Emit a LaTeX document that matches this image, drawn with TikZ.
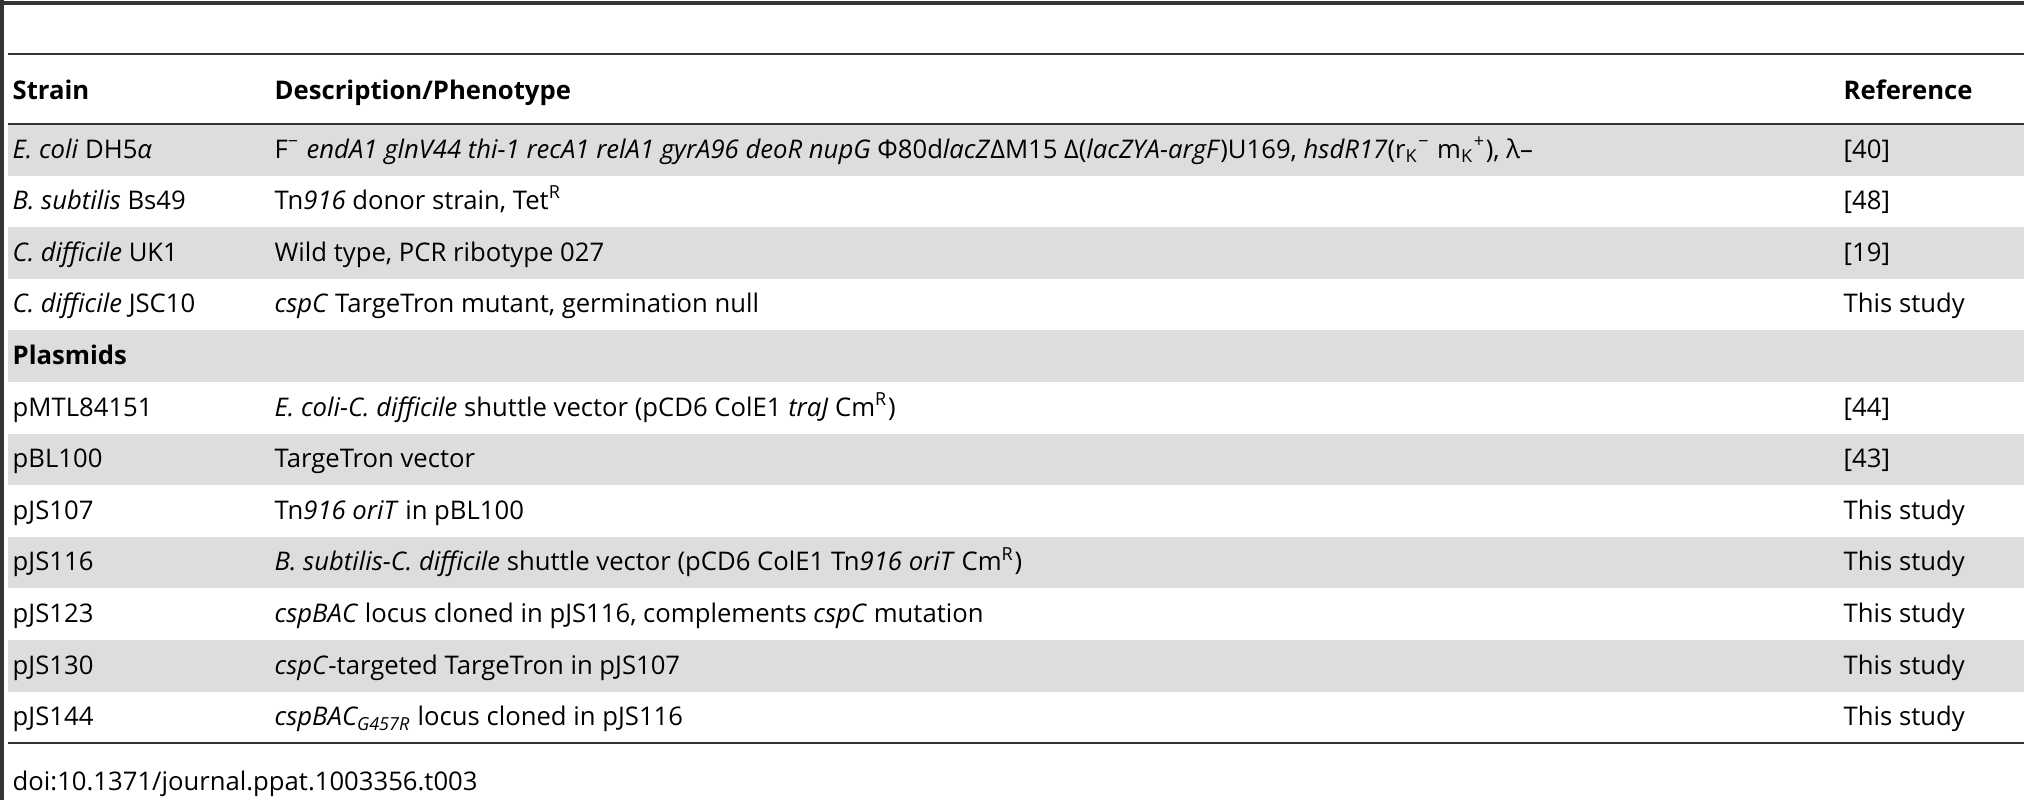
\documentclass[tikz,border=0pt]{standalone}
\usepackage{fontspec}
\setmainfont{Open Sans}
\usetikzlibrary{positioning}
\definecolor{bandgray}{HTML}{DCDDDF}
\definecolor{rulegray}{HTML}{333333}
\tikzset{
cell/.style={anchor=base west,inner sep=0pt,font=\fontsize{7.3}{9}\selectfont},
head/.style={cell,font=\fontsize{7.3}{9}\selectfont\bfseries},
rulethick/.style={rulegray,line width=1.2pt},
rulethin/.style={rulegray,line width=0.8pt},
}
\newcommand{\gn}[1]{\textit{#1}}
\begin{document}
\begin{tikzpicture}[x=0.01cm,y=-0.01cm]
        \useasboundingbox (0,0) rectangle (2024,800);
        % shaded rows
        \foreach \r in {0,2,4,6,8,10}
        \fill[bandgray] (8,124+51.6*\r) rectangle (2024,124+51.6*\r+51.6);
        % rules
        \draw[rulethick] (0,3) -- (2024,3);
        \draw[rulethick] (2,0) -- (2,800);
        \draw[rulethin] (8,54) -- (2024,54);
        \draw[rulethin] (8,124) -- (2024,124);
        \draw[rulethin] (8,743) -- (2024,743);
        % header
        \node[head] (hstrain) at (12,99) {Strain};
        \node[head] (hdesc) at (274,99) {Description/Phenotype};
        \node[head] (href) at (1843,99) {Reference};
        % strains
        \node[cell] (s1) at (12,158) {\gn{E. coli} DH5\textit{α}};
        \node[cell] (d1) at (274,158) {F\textsuperscript{−} \gn{endA1 glnV44 thi-1 recA1 relA1 gyrA96 deoR nupG} Φ80d\gn{lacZ}ΔM15 Δ(\gn{lacZYA-argF})U169, \gn{hsdR17}(r\textsubscript{K}\textsuperscript{−} m\textsubscript{K}\textsuperscript{+}), λ–};
        \node[cell] (r1) at (1843,158) {[40]};
        \node[cell] (s2) at (12,209.6) {\gn{B. subtilis} Bs49};
        \node[cell] (d2) at (274,209.6) {Tn\gn{916} donor strain, Tet\textsuperscript{R}};
        \node[cell] (r2) at (1843,209.6) {[48]};
        \node[cell] (s3) at (12,261.2) {\gn{C. difficile} UK1};
        \node[cell] (d3) at (274,261.2) {Wild type, PCR ribotype 027};
        \node[cell] (r3) at (1843,261.2) {[19]};
        \node[cell] (s4) at (12,312.8) {\gn{C. difficile} JSC10};
        \node[cell] (d4) at (274,312.8) {\gn{cspC} TargeTron mutant, germination null};
        \node[cell] (r4) at (1843,312.8) {This study};
        % plasmids
        \node[head] (hplasmid) at (12,364.4) {Plasmids};
        \node[cell] (s6) at (12,416) {pMTL84151};
        \node[cell] (d6) at (274,416) {\gn{E. coli-C. difficile} shuttle vector (pCD6 ColE1 \gn{traJ} Cm\textsuperscript{R})};
        \node[cell] (r6) at (1843,416) {[44]};
        \node[cell] (s7) at (12,467.6) {pBL100};
        \node[cell] (d7) at (274,467.6) {TargeTron vector};
        \node[cell] (r7) at (1843,467.6) {[43]};
        \node[cell] (s8) at (12,519.2) {pJS107};
        \node[cell] (d8) at (274,519.2) {Tn\gn{916 oriT} in pBL100};
        \node[cell] (r8) at (1843,519.2) {This study};
        \node[cell] (s9) at (12,570.8) {pJS116};
        \node[cell] (d9) at (274,570.8) {\gn{B. subtilis-C. difficile} shuttle vector (pCD6 ColE1 Tn\gn{916 oriT} Cm\textsuperscript{R})};
        \node[cell] (r9) at (1843,570.8) {This study};
        \node[cell] (s10) at (12,622.4) {pJS123};
        \node[cell] (d10) at (274,622.4) {\gn{cspBAC} locus cloned in pJS116, complements \gn{cspC} mutation};
        \node[cell] (r10) at (1843,622.4) {This study};
        \node[cell] (s11) at (12,674) {pJS130};
        \node[cell] (d11) at (274,674) {\gn{cspC}-targeted TargeTron in pJS107};
        \node[cell] (r11) at (1843,674) {This study};
        \node[cell] (s12) at (12,725.6) {pJS144};
        \node[cell] (d12) at (274,725.6) {\gn{cspBAC\textsubscript{G457R}} locus cloned in pJS116};
        \node[cell] (r12) at (1843,725.6) {This study};
        % footer
        \node[cell] (doi) at (12,790) {doi:10.1371/journal.ppat.1003356.t003};
    \end{tikzpicture}
\end{document}
